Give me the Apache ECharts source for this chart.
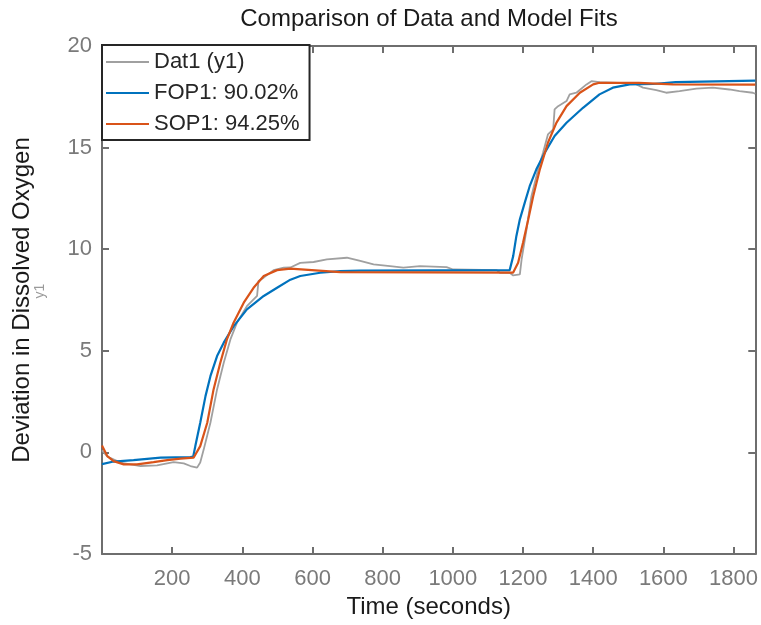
<!DOCTYPE html>
<html>
<head>
<meta charset="utf-8">
<script src="https://cdn.jsdelivr.net/npm/echarts@6/dist/echarts.min.js"></script>
<style>
  html, body { margin: 0; padding: 0; background: #fff; }
  #chart { width: 761px; height: 625px; }
</style>
</head>
<body>
<div id="chart"></div>
<script>
const datTime = [0, 15, 53, 110, 157, 204, 233, 252, 271, 280, 290, 309, 328, 347, 366, 385, 413, 442, 446, 461, 489, 518, 537, 565, 603, 641, 698, 736, 774, 821, 859, 906, 982, 1001, 1125, 1134, 1162, 1172, 1191, 1196, 1210, 1224, 1243, 1257, 1271, 1286, 1290, 1300, 1324, 1333, 1352, 1381, 1395, 1418, 1475, 1513, 1542, 1580, 1608, 1646, 1694, 1741, 1788, 1817, 1855, 1862]
const datValues = [0.1, -0.2, -0.5, -0.67, -0.64, -0.48, -0.54, -0.67, -0.75, -0.5, 0.15, 1.46, 3.1, 4.41, 5.56, 6.4, 7.2, 7.7, 8.43, 8.6, 8.97, 9.09, 9.1, 9.33, 9.37, 9.5, 9.58, 9.42, 9.25, 9.17, 9.09, 9.17, 9.12, 9.0, 8.97, 8.84, 8.84, 8.71, 8.76, 9.5, 10.97, 12.61, 13.93, 14.75, 15.65, 15.9, 16.88, 17.04, 17.29, 17.62, 17.7, 18.11, 18.27, 18.22, 18.19, 18.19, 17.95, 17.83, 17.7, 17.78, 17.9, 17.95, 17.86, 17.78, 17.7, 17.65]

const fopTime = [0, 33, 90, 167, 252, 260, 266, 280, 295, 309, 328, 347, 375, 413, 461, 499, 537, 565, 622, 679, 736, 1162, 1172, 1181, 1191, 1205, 1219, 1238, 1262, 1290, 1324, 1371, 1418, 1456, 1504, 1570, 1575, 1635, 1640, 1862]
const fopValues = [-0.58, -0.45, -0.38, -0.26, -0.23, -0.2, 0.31, 1.46, 2.77, 3.75, 4.74, 5.4, 6.2, 7.04, 7.7, 8.1, 8.5, 8.68, 8.84, 8.92, 8.95, 8.97, 9.66, 10.64, 11.47, 12.29, 13.1, 13.93, 14.75, 15.57, 16.22, 16.96, 17.62, 17.95, 18.11, 18.13, 18.22, 18.22, 18.3, 18.3]

const sopTime = [0, 15, 33, 62, 100, 147, 186, 224, 261, 280, 300, 318, 337, 356, 375, 404, 432, 461, 499, 537, 679, 1172, 1186, 1200, 1215, 1229, 1248, 1271, 1295, 1324, 1362, 1400, 1418, 1530, 1627, 1862]
const sopValues = [0.34, -0.18, -0.43, -0.59, -0.59, -0.48, -0.38, -0.31, -0.26, 0.31, 1.46, 3.1, 4.4, 5.56, 6.38, 7.37, 8.1, 8.68, 8.97, 9.04, 8.87, 8.85, 9.33, 10.32, 11.47, 12.61, 13.93, 15.24, 16.22, 17.04, 17.7, 18.11, 18.19, 18.19, 18.11, 18.1]

const seriesNames = ['Dat1 (y1)', 'FOP1: 90.02%', 'SOP1: 94.25%']
const xTicks = [0, 1862, 200]   // min, max, interval
const yTicks = [-5, 20, 5]

const font = '"Liberation Sans", Arial, Helvetica, sans-serif'
const axisGray = '#6e6e6e'
const labelGray = '#7a7a7a'

const pairs = (ts, vs) => ts.map((t, i) => [t, vs[i]])

const chart = echarts.init(document.getElementById('chart'))

const baseX = {
  type: 'value',
  min: xTicks[0],
  max: xTicks[1],
  interval: xTicks[2],
  axisLine: { show: true, onZero: false, lineStyle: { color: axisGray, width: 2 } },
  axisTick: { show: true, inside: true, length: 7, lineStyle: { color: axisGray, width: 2 } },
  splitLine: { show: false }
}
const baseY = {
  type: 'value',
  min: yTicks[0],
  max: yTicks[1],
  interval: yTicks[2],
  axisLine: { show: true, onZero: false, lineStyle: { color: axisGray, width: 2 } },
  axisTick: { show: true, inside: true, length: 7, lineStyle: { color: axisGray, width: 2 } },
  splitLine: { show: false }
}

const option = {
  backgroundColor: '#fff',
  animation: false,
  grid: { left: 102, right: 5, top: 46, bottom: 71 },
  graphic: [
    {
      type: 'text',
      x: 429,
      y: 19,
      style: { text: 'Comparison of Data and Model Fits', fill: '#1a1a1a', font: '24px ' + font, align: 'center', verticalAlign: 'middle' }
    },
    {
      type: 'text',
      x: 40,
      y: 291,
      rotation: Math.PI / 2,
      style: { text: 'y1', fill: '#9a9a9a', font: '14px ' + font, align: 'center', verticalAlign: 'middle' }
    }
  ],
  legend: {
    orient: 'vertical',
    left: 102,
    top: 45,
    data: seriesNames,
    icon: 'rect',
    itemWidth: 43,
    itemHeight: 2,
    itemGap: 5,
    padding: [4, 10, 3, 4],
    backgroundColor: '#fff',
    borderColor: '#262626',
    borderWidth: 2,
    borderRadius: 0,
    textStyle: { fontFamily: font, fontSize: 22, color: '#262626', lineHeight: 26, padding: [0, 0, 0, 0] }
  },
  xAxis: [
    Object.assign({}, baseX, {
      position: 'bottom',
      name: 'Time (seconds)',
      nameLocation: 'middle',
      nameGap: 40,
      nameTextStyle: { fontFamily: font, fontSize: 24, color: '#1a1a1a' },
      axisLabel: {
        fontFamily: font, fontSize: 22, color: labelGray, margin: 14,
        showMinLabel: false, showMaxLabel: false,
        formatter: v => (v === 0 ? '' : String(v))
      }
    }),
    Object.assign({}, baseX, { position: 'top', axisLabel: { show: false } })
  ],
  yAxis: [
    Object.assign({}, baseY, {
      position: 'left',
      name: 'Deviation in Dissolved Oxygen',
      nameLocation: 'middle',
      nameGap: 68,
      nameTextStyle: { fontFamily: font, fontSize: 24, color: '#1a1a1a' },
      axisLabel: { fontFamily: font, fontSize: 22, color: labelGray, margin: 10 }
    }),
    Object.assign({}, baseY, { position: 'right', axisLabel: { show: false } })
  ],
  series: [
    {
      name: seriesNames[0],
      type: 'line',
      data: pairs(datTime, datValues),
      showSymbol: false,
      color: '#a0a0a0',
      lineStyle: { color: '#a0a0a0', width: 1.8 },
      z: 2
    },
    {
      name: seriesNames[1],
      type: 'line',
      data: pairs(fopTime, fopValues),
      showSymbol: false,
      color: '#0072BD',
      lineStyle: { color: '#0072BD', width: 2.2 },
      z: 3
    },
    {
      name: seriesNames[2],
      type: 'line',
      data: pairs(sopTime, sopValues),
      showSymbol: false,
      color: '#D95319',
      lineStyle: { color: '#D95319', width: 2.2 },
      z: 4
    }
  ]
}

chart.setOption(option)
window.addEventListener('resize', () => chart.resize())
</script>
</body>
</html>
